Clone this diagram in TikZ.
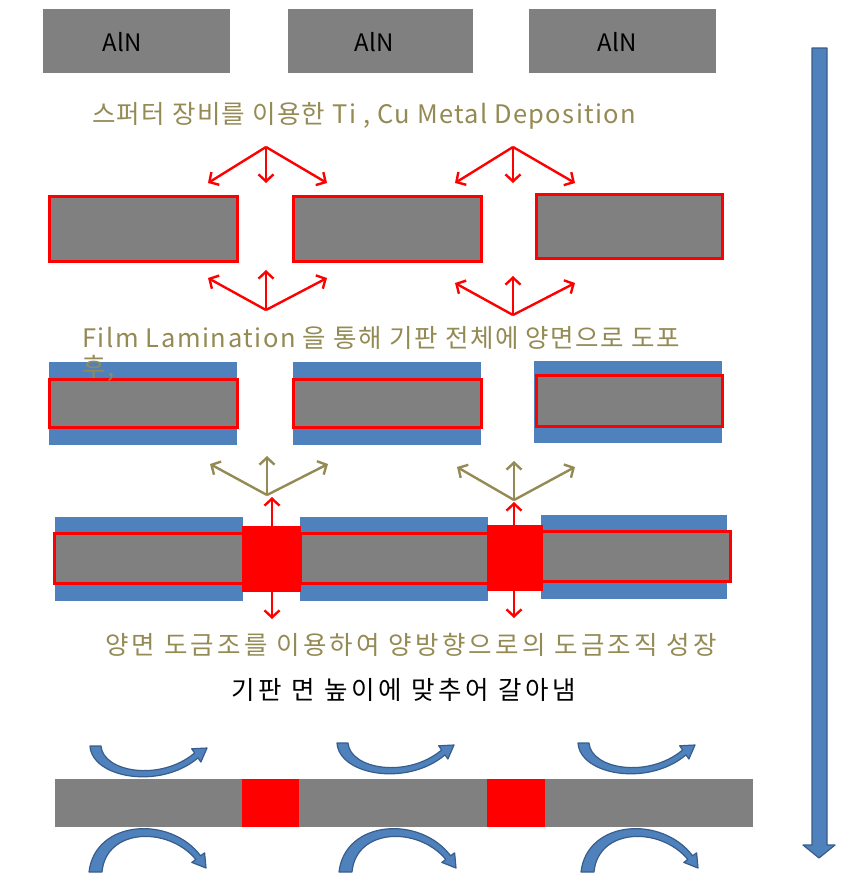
\documentclass[tikz,border=0pt]{standalone}
\usepackage{fontspec}
\setmainfont{Noto Sans CJK KR}
\usetikzlibrary{arrows.meta}
\definecolor{slab}{HTML}{808080}
\definecolor{cured}{HTML}{FF0000}
\definecolor{film}{HTML}{4F81BD}
\definecolor{filmdark}{HTML}{385D8A}
\definecolor{olive}{HTML}{948A54}
\newcommand\spaced[2]{\fontsize{#1}{30}\selectfont\addfontfeatures{LetterSpace=#2}}
\tikzset{
  box/.style={inner sep=0pt, outer sep=0pt, fill=slab},
  alntext/.style={inner sep=0pt, font=\fontsize{24}{28}\selectfont, text=black},
  redbox/.style={box, draw=cured, line width=3pt},
  layer/.style={inner sep=0pt, outer sep=0pt, fill=film},
  plug/.style={inner sep=0pt, outer sep=0pt, fill=cured},
  redarrow/.style={draw=cured, line width=2.4pt, -{Straight Barb[length=7pt,width=15pt,line width=2.4pt]}},
  olivearrow/.style={draw=olive, line width=2.4pt, -{Straight Barb[length=7pt,width=15pt,line width=2.4pt]}},
  note/.style={anchor=west, inner sep=0pt, text=olive},
  curvy/.style={fill=film, draw=filmdark, line width=1.2pt, line join=round},
  cupArrow/.pic={\path[curvy] (90,746) .. controls (92,778) and (160,790) .. (198,757.9) -- (200.9,762) -- (207,748) -- (191.7,748.8) -- (194.6,753) .. controls (160,782) and (103,772) .. (101,746) -- cycle;},
  capArrow/.pic={\path[curvy] (89,872) .. controls (95,820) and (170,815) .. (200.6,855.8) -- (204.6,852.8) -- (206,868) -- (191.8,862.4) -- (195.8,859.4) .. controls (168,826) and (106,828) .. (102,872) -- cycle;}
}
\begin{document}
\begin{tikzpicture}[x=1pt,y=-1pt]
\useasboundingbox (0,0) rectangle (855,887);
\fill[white] (0,0) rectangle (855,887);

% row 1: AlN substrates
\node[box, minimum width=187pt, minimum height=64pt] (a1) at (136.5,41) {};
\node[box, minimum width=185pt, minimum height=64pt] (a2) at (380.5,41) {};
\node[box, minimum width=187pt, minimum height=64pt] (a3) at (622.5,41) {};
\node[alntext] (a1t) at (122,42) {AlN};
\node[alntext] (a2t) at (374,42) {AlN};
\node[alntext] (a3t) at (617,42) {AlN};
\node[note, font=\spaced{25.5}{5.2}] (t1) at (92,116) {스퍼터 장비를 이용한 Ti , Cu Metal Deposition};

% row 2: metal deposition
\node[redbox, minimum width=188pt, minimum height=65pt] (b1) at (143,228.5) {};
\node[redbox, minimum width=188pt, minimum height=65pt] (b2) at (387,228.5) {};
\node[redbox, minimum width=186pt, minimum height=64pt] (b3) at (629,226) {};

\coordinate (u1) at (266,147); \coordinate (u2) at (513,147);
\coordinate (u1l) at (208,183); \coordinate (u1d) at (266,183); \coordinate (u1r) at (327,183);
\coordinate (u2l) at (455,183); \coordinate (u2d) at (513,183); \coordinate (u2r) at (575,183);
\foreach \t in {u1l,u1d,u1r} \draw[redarrow] (u1) -- (\t);
\foreach \t in {u2l,u2d,u2r} \draw[redarrow] (u2) -- (\t);

\coordinate (v1) at (266,310); \coordinate (v2) at (513,315);
\coordinate (v1l) at (208,278); \coordinate (v1u) at (266,270); \coordinate (v1r) at (327,278);
\coordinate (v2l) at (455,283); \coordinate (v2u) at (513,276); \coordinate (v2r) at (575,283);
\foreach \t in {v1l,v1u,v1r} \draw[redarrow] (v1) -- (\t);
\foreach \t in {v2l,v2u,v2r} \draw[redarrow] (v2) -- (\t);

% row 3: film lamination
\node[layer, minimum width=188pt, minimum height=83pt] (f1) at (143,403.5) {};
\node[layer, minimum width=188pt, minimum height=83pt] (f2) at (387,403.5) {};
\node[layer, minimum width=188pt, minimum height=82pt] (f3) at (628,402) {};
\node[redbox, minimum width=188pt, minimum height=48pt] (c1) at (143,403) {};
\node[redbox, minimum width=188pt, minimum height=48pt] (c2) at (387,403) {};
\node[redbox, minimum width=186pt, minimum height=51pt] (c3) at (629,400.5) {};
\node[note, font=\spaced{25.5}{6}] (t2) at (82,338) {Film Lamination 을 통해 기판 전체에 양면으로 도포};
\node[note, font=\spaced{25.5}{6}] (t2b) at (82,368) {후,};

\coordinate (w1) at (267,495); \coordinate (w2) at (514,500);
\coordinate (w1l) at (210,464); \coordinate (w1u) at (267,456); \coordinate (w1r) at (328,464);
\coordinate (w2l) at (457,467); \coordinate (w2u) at (514,461); \coordinate (w2r) at (575,467);
\foreach \t in {w1l,w1u,w1r} \draw[olivearrow] (w1) -- (\t);
\foreach \t in {w2l,w2u,w2r} \draw[olivearrow] (w2) -- (\t);

% row 4: plating
\node[layer, minimum width=188pt, minimum height=84pt] (g1) at (149,559) {};
\node[layer, minimum width=188pt, minimum height=84pt] (g2) at (394,559) {};
\node[layer, minimum width=186pt, minimum height=84pt] (g3) at (634,557) {};
\node[redbox, minimum width=189pt, minimum height=50pt] (h1) at (148.5,558) {};
\node[redbox, minimum width=188pt, minimum height=50pt] (h2) at (394,558) {};
\node[redbox, minimum width=189pt, minimum height=50pt] (h3) at (635.5,556) {};
\node[plug, minimum width=59pt, minimum height=66pt] (p1) at (271.5,559) {};
\node[plug, minimum width=56pt, minimum height=66pt] (p2) at (515,558) {};
\coordinate (p1up) at (272,497); \coordinate (p1dn) at (272,619);
\coordinate (p2up) at (514,502); \coordinate (p2dn) at (514,618);
\draw[redarrow] (p1.north -| p1up) -- (p1up);
\draw[redarrow] (p1.south -| p1dn) -- (p1dn);
\draw[redarrow] (p2.north -| p2up) -- (p2up);
\draw[redarrow] (p2.south -| p2dn) -- (p2dn);
\node[note, font=\spaced{25.5}{12.5}] (t3) at (105,645) {양면 도금조를 이용하여 양방향으로의 도금조직 성장};
\node[note, text=black, font=\spaced{25.5}{14.5}] (t4) at (231,690) {기판 면 높이에 맞추어 갈아냄};

% row 5: grinding
\node[box, minimum width=698pt, minimum height=48pt] (k) at (404,803) {};
\node[plug, minimum width=57pt, minimum height=48pt] (q1) at (270.5,803) {};
\node[plug, minimum width=58pt, minimum height=48pt] (q2) at (516,803) {};
\pic at (0,0) {cupArrow};
\pic at (247,-3) {cupArrow};
\pic at (488,-3) {cupArrow};
\pic at (0,0) {capArrow};
\pic at (250,0) {capArrow};
\pic at (492,0) {capArrow};

% process direction arrow
\path[curvy] (812,48) -- (827,48) -- (827,845) -- (835,845) -- (819,858) -- (803,845) -- (812,845) -- cycle;
\end{tikzpicture}
\end{document}
